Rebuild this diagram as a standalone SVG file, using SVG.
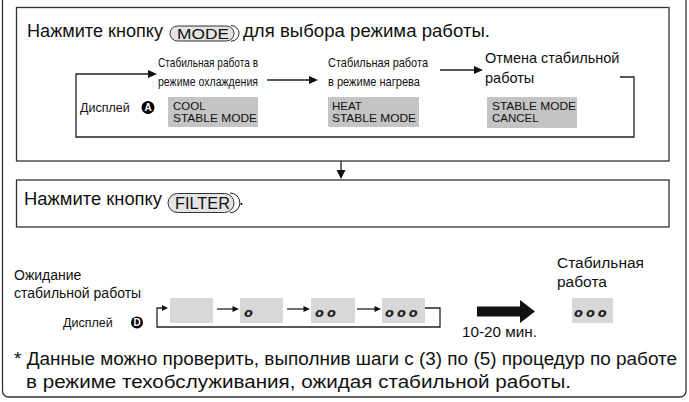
<svg xmlns="http://www.w3.org/2000/svg" width="689" height="402" viewBox="0 0 689 402">
<style>
text{font-family:"Liberation Sans",Arial,sans-serif;fill:#111}
.frame{fill:none;stroke:#333;stroke-width:1.3}
.ln{fill:none;stroke:#222;stroke-width:1.3}
.lnt{fill:none;stroke:#222;stroke-width:1}
.head{fill:#111}
.gtop{fill:#c4c4c4}
.gbot{fill:#d8d8d8}
.pill{fill:#e4e4e4;stroke:#333;stroke-width:1}
.h{font-size:17.5px}
.nar{font-size:13px}
.mid{font-size:14.5px}
.box{font-size:11.5px}
.dig{font-family:"DejaVu Sans",sans-serif;font-style:italic;font-size:13px;font-weight:bold;fill:#222}
.circ{fill:#000}
.ctext{fill:#fff;font-size:10px;font-weight:bold}
</style>

<g id="outer-frame">
<rect class="frame" x="2.5" y="-10" width="683.5" height="407" rx="6"/>
</g>

<g id="mode-step">
<rect class="frame" x="16.5" y="7.5" width="652.5" height="153.5"/>
<text class="h" x="27" y="37" textLength="136" lengthAdjust="spacingAndGlyphs">Нажмите кнопку</text>
<rect class="pill" x="170" y="26" width="64" height="15" rx="7.5"/>
<path class="lnt" d="M231 25.5 A8 7.8 0 0 1 231 41.2"/>
<text x="177" y="38.5" font-size="14" textLength="52" lengthAdjust="spacingAndGlyphs">MODE</text>
<text class="h" x="243" y="37" textLength="247" lengthAdjust="spacingAndGlyphs">для выбора режима работы.</text>
</g>

<g id="cool-mode">
<text class="nar" x="158" y="66.7" textLength="100" lengthAdjust="spacingAndGlyphs">Стабильная работа в</text>
<text class="nar" x="158" y="85.5" textLength="100" lengthAdjust="spacingAndGlyphs">режиме охлаждения</text>
<rect class="gtop" x="168" y="97" width="90" height="30"/>
<text class="box" x="173" y="110">COOL</text>
<text class="box" x="173" y="122" textLength="84" lengthAdjust="spacingAndGlyphs">STABLE MODE</text>
</g>

<g id="heat-mode">
<text class="nar" x="328" y="66.7" textLength="100" lengthAdjust="spacingAndGlyphs">Стабильная работа</text>
<text class="nar" x="328" y="85.5" textLength="92" lengthAdjust="spacingAndGlyphs">в режиме нагрева</text>
<rect class="gtop" x="328" y="97" width="91" height="30"/>
<text class="box" x="332" y="110">HEAT</text>
<text class="box" x="332" y="122" textLength="84" lengthAdjust="spacingAndGlyphs">STABLE MODE</text>
</g>

<g id="cancel-mode">
<text class="mid" x="485" y="63.3">Отмена стабильной</text>
<text class="mid" x="485" y="83">работы</text>
<rect class="gtop" x="487" y="97" width="90" height="31"/>
<text class="box" x="492" y="110" textLength="84" lengthAdjust="spacingAndGlyphs">STABLE MODE</text>
<text class="box" x="492" y="122">CANCEL</text>
</g>

<g id="display-a">
<text x="80" y="111.5" font-size="12.5">Дисплей</text>
<circle class="circ" cx="148" cy="107.5" r="6.5"/>
<text class="ctext" x="148" y="111" text-anchor="middle">A</text>
</g>

<g id="filter-step">
<rect class="frame" x="16.5" y="180" width="652.5" height="47"/>
<text class="h" x="24" y="205" textLength="138" lengthAdjust="spacingAndGlyphs">Нажмите кнопку</text>
<rect class="pill" x="168" y="193.5" width="66" height="19" rx="9.5"/>
<path class="lnt" d="M230 193 A9.8 9.8 0 0 1 230 212.8"/>
<text x="175" y="208.5" font-size="17" textLength="55" lengthAdjust="spacingAndGlyphs">FILTER</text>
<text class="h" x="239" y="205">.</text>
</g>

<g id="waiting">
<text x="14" y="279.5" font-size="14">Ожидание</text>
<text x="14" y="298" font-size="14">стабильной работы</text>
</g>

<g id="display-d">
<text x="63" y="327" font-size="12.5">Дисплей</text>
<circle class="circ" cx="137" cy="322.5" r="6"/>
<text class="ctext" x="137" y="326" text-anchor="middle">D</text>
</g>

<g id="seq-0"><rect class="gbot" x="170" y="298" width="43" height="25"/></g>
<g id="seq-1"><rect class="gbot" x="240" y="298" width="43" height="25"/><text class="dig" x="244" y="317">o</text></g>
<g id="seq-2"><rect class="gbot" x="311" y="298" width="44" height="25"/><text class="dig" x="315" y="317" letter-spacing="3">oo</text></g>
<g id="seq-3"><rect class="gbot" x="382" y="298" width="43" height="25"/><text class="dig" x="385" y="317" letter-spacing="3">ooo</text></g>

<g id="stable">
<text x="557" y="267.7" font-size="15.5">Стабильная</text>
<text x="557" y="286.7" font-size="15.5">работа</text>
<rect class="gbot" x="572" y="298" width="41" height="25"/>
<text class="dig" x="574" y="317" letter-spacing="3">ooo</text>
</g>

<g id="time-label">
<text x="462" y="337" font-size="14.5" textLength="75" lengthAdjust="spacingAndGlyphs">10-20 мин.</text>
</g>

<g id="footnote">
<text class="h" x="14" y="365" textLength="663" lengthAdjust="spacingAndGlyphs">* Данные можно проверить, выполнив шаги с (3) по (5) процедур по работе</text>
<text class="h" x="26" y="388" textLength="545" lengthAdjust="spacingAndGlyphs">в режиме техобслуживания, ожидая стабильной работы.</text>
</g>

<g id="connectors">
<path class="ln" d="M148 74 H76 V137 H634 V77 H620"/>
<path class="head" d="M148 70 L157 74 L148 78 Z"/>
<path class="ln" d="M267 80 H310"/>
<path class="head" d="M309 76 L318 80 L309 84 Z"/>
<path class="ln" d="M440 70 H475"/>
<path class="head" d="M474 66 L483 70 L474 74 Z"/>
<path class="ln" d="M341 161 V171"/>
<path class="head" d="M336.5 170 L341 179 L345.5 170 Z"/>
<path class="ln" d="M163 308 H157 V327 H440 V308 H425"/>
<path class="head" d="M162 305 L168 308 L162 311 Z"/>
<path class="ln" d="M217 309 H233"/>
<path class="head" d="M232.5 306 L239 309 L232.5 312 Z"/>
<path class="ln" d="M287 309 H304"/>
<path class="head" d="M303.5 306 L310 309 L303.5 312 Z"/>
<path class="ln" d="M357 309 H375"/>
<path class="head" d="M374.5 306 L381 309 L374.5 312 Z"/>
<path class="head" d="M477 306.5 H520 V300 L535 311.5 L520 323 V316.5 H477 Z"/>
</g>
</svg>
